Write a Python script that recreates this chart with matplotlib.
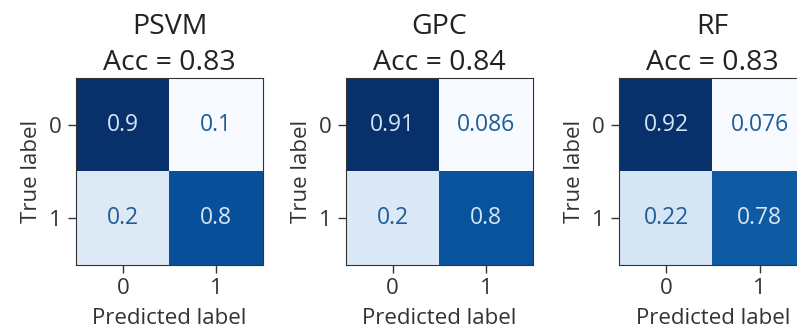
import numpy as np
import matplotlib.pyplot as plt

plt.rcParams['font.family'] = ['Open Sans', 'DejaVu Sans']

models = ["PSVM", "GPC", "RF"]
accs = [0.83, 0.84, 0.83]
cms = [
    [[0.9, 0.1], [0.2, 0.8]],
    [[0.91, 0.086], [0.2, 0.8]],
    [[0.92, 0.076], [0.22, 0.78]],
]
ticklabels = ["0", "1"]

fig = plt.figure(figsize=(7.97, 3.34), dpi=100)
lefts = [0.0954, 0.434, 0.777]

for k in range(len(models)):
    cm = np.array(cms[k])
    ax = fig.add_axes([lefts[k], 0.206, 0.2346, 0.56])
    ax.imshow(cm, cmap="Blues", vmin=cm.min(), vmax=cm.max(), aspect="auto")
    thresh = (cm.max() + cm.min()) / 2
    for i in range(2):
        for j in range(2):
            c = "#d4e5f4" if cm[i, j] > thresh else "#1f5c98"
            ax.text(j, i, f"{cm[i, j]:.2g}", ha="center", va="center",
                    color=c, fontsize=16.5)
    ax.set_xticks([0, 1])
    ax.set_yticks([0, 1])
    ax.set_xticklabels(ticklabels, fontsize=16)
    ax.set_yticklabels(ticklabels, fontsize=16)
    ax.tick_params(length=5.5, width=1, color="#333333", labelcolor="#333333")
    ax.tick_params(axis="x", pad=4)
    ax.tick_params(axis="y", pad=5)
    for s in ax.spines.values():
        s.set_color("#333333")
    ax.set_xlabel("Predicted label", fontsize=16, color="#333333", labelpad=6)
    ax.set_ylabel("True label", fontsize=16, color="#333333", labelpad=5)
    ax.set_title(f"{models[k]}\nAcc = {accs[k]}", fontsize=20.5,
                 linespacing=1.35, pad=6, color="#222222")

fig.savefig("out.png", dpi=100)
